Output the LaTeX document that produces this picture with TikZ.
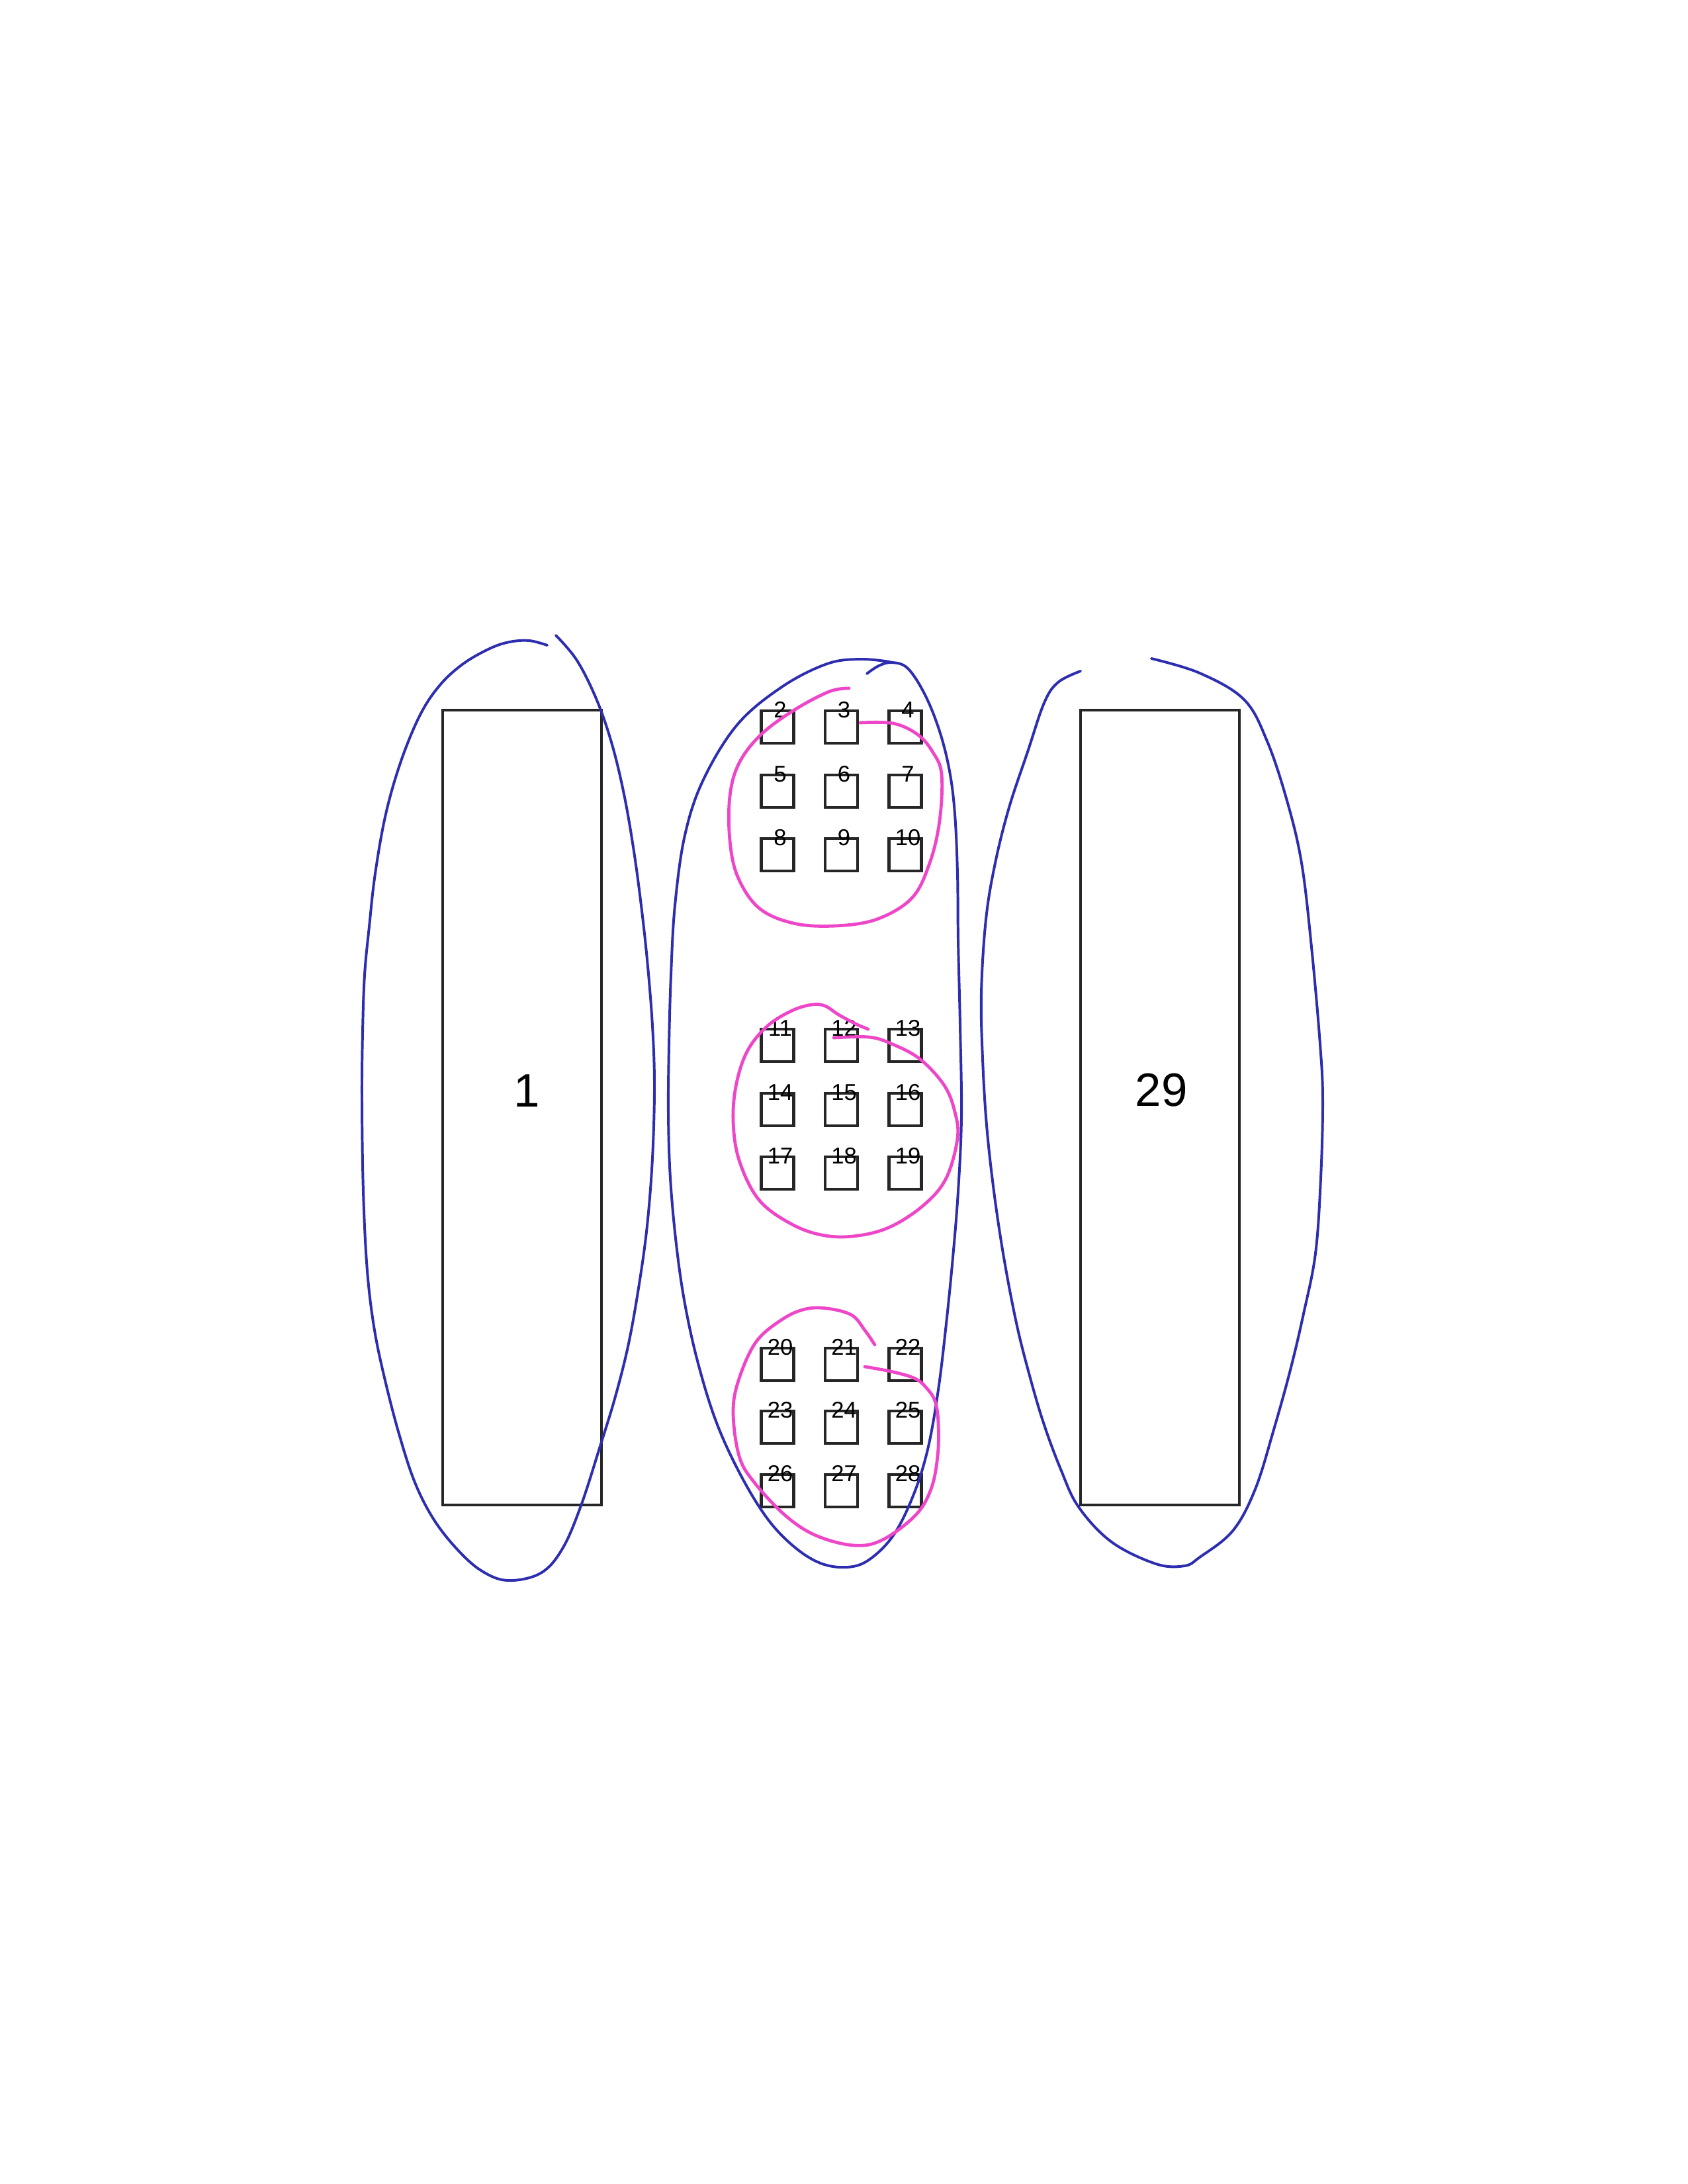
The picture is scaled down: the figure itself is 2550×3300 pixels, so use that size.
\documentclass[tikz,border=0pt]{standalone}
\usepackage{fontspec}
\setmainfont{Liberation Sans}
\definecolor{penblue}{RGB}{45,45,175}
\definecolor{penpink}{RGB}{238,70,200}
\begin{document}
\begin{tikzpicture}[x=0.24pt,y=-0.24pt,
  bigbox/.style={draw=black!85,line width=1pt,inner sep=0,minimum width=57.6pt,minimum height=288.2pt},
  sq/.style={draw=black!85,line width=1.1pt,inner sep=0,minimum width=11.76pt,minimum height=11.76pt},
  sqlbl/.style={font=\fontsize{8.3}{9}\selectfont,inner sep=0},
  biglbl/.style={font=\fontsize{17}{20}\selectfont,inner sep=0},
  bluepen/.style={draw=penblue,line width=0.95pt,line cap=round,line join=round},
  pinkpen/.style={draw=penpink,line width=1.15pt,line cap=round,line join=round}]
\useasboundingbox (0,0) rectangle (2550,3300);

% big boxes
\node[bigbox] (b1) at (789,1673.5) {};
\node[bigbox] (b29) at (1753,1673.5) {};
\node[biglbl] (t1) at (796,1648) {1};
\node[biglbl] (t29) at (1755,1647) {29};

% small squares
\foreach \r/\ytop in {0/1074,1/1171,2/1267,3/1555,4/1652,5/1748,6/2037,7/2132,8/2228}{
  \foreach \c/\xc in {0/1175,1/1271.5,2/1368}{
    \pgfmathtruncatemacro{\n}{2+3*\r+\c}
    \node[sq] (s\n) at (\xc,\ytop+24.5) {};
    \node[sqlbl] (l\n) at (\xc+4,\ytop-1.5) {\n};
  }
}

% blue hand-drawn loops
\draw[bluepen] plot[smooth,tension=0.6] coordinates {
 (840,960) (872,998) (902,1058) (925,1125) (943,1200) (957,1280) (968,1360)
 (978,1450) (986,1550) (989,1641) (986,1750) (978,1852) (966,1940) (950,2030)
 (930,2110) (907,2185) (878,2275) (850,2340) (817,2377) (767,2388) (727,2373)
 (690,2340) (655,2295) (627,2240) (604,2170) (583,2090) (566,2010) (555,1920)
 (549,1800) (547,1662) (548,1560) (551,1473) (558,1400) (567,1320) (583,1230)
 (606,1150) (635,1080) (665,1035) (700,1003) (740,980) (770,970) (800,968)
 (827,975)};

\draw[bluepen] plot[smooth,tension=0.6] coordinates {
 (1310,1018) (1328,1006) (1348,1001) (1372,1010) (1398,1050) (1420,1105)
 (1435,1165) (1443,1230) (1447,1320) (1448,1420) (1451,1550) (1453,1687)
 (1448,1800) (1440,1900) (1430,2000) (1418,2100) (1402,2190) (1380,2260)
 (1350,2320) (1313,2357) (1280,2368) (1240,2362) (1200,2337) (1160,2295)
 (1120,2230) (1083,2150) (1055,2060) (1035,1970) (1022,1880) (1013,1780)
 (1010,1683) (1011,1580) (1014,1473) (1020,1368) (1035,1262) (1063,1178)
 (1115,1094) (1183,1037) (1250,1003) (1300,996) (1345,1000)};

\draw[bluepen] plot[smooth,tension=0.6] coordinates {
 (1633,1014) (1599,1031) (1578,1062) (1553,1136) (1525,1220) (1504,1304)
 (1490,1389) (1483,1500) (1485,1600) (1491,1700) (1502,1800) (1517,1900)
 (1536,1999) (1555,2075) (1577,2150) (1603,2220) (1630,2277)
 (1680,2330) (1747,2363) (1790,2366) (1813,2353) (1863,2313) (1897,2250)
 (1925,2160) (1950,2070) (1970,1985) (1988,1894) (1996,1780) (1999,1662)
 (1995,1578) (1982,1431) (1967,1304) (1945,1210) (1915,1120) (1880,1057)
 (1813,1017) (1740,995)};

% pink hand-drawn loops
\draw[pinkpen] plot[smooth,tension=0.6] coordinates {
 (1283,1040) (1253,1045) (1200,1073) (1150,1110) (1117,1153) (1103,1203)
 (1103,1270) (1115,1325) (1147,1372) (1199,1395) (1262,1399) (1325,1389)
 (1378,1357) (1405,1304) (1420,1240) (1423,1170) (1410,1137) (1387,1110)
 (1350,1093) (1300,1092)};

\draw[pinkpen] plot[smooth,tension=0.6] coordinates {
 (1312,1555) (1293,1547) (1267,1533) (1247,1520) (1227,1518) (1197,1527)
 (1160,1550) (1130,1587) (1113,1637) (1108,1693) (1117,1753) (1147,1813)
 (1197,1850) (1247,1867) (1297,1867) (1347,1853) (1397,1820) (1430,1780)
 (1447,1720) (1443,1680) (1427,1640) (1390,1600) (1347,1577) (1313,1567)
 (1260,1568)};

\draw[pinkpen] plot[smooth,tension=0.6] coordinates {
 (1322,2032) (1307,2010) (1287,1987) (1250,1977) (1217,1978) (1183,1993)
 (1143,2027) (1117,2083) (1108,2133) (1117,2200) (1140,2240) (1187,2290)
 (1233,2320) (1290,2335) (1333,2327) (1383,2290) (1407,2250) (1417,2200)
 (1418,2150) (1413,2117) (1400,2097) (1383,2083) (1350,2073) (1307,2065)};
\end{tikzpicture}
\end{document}
